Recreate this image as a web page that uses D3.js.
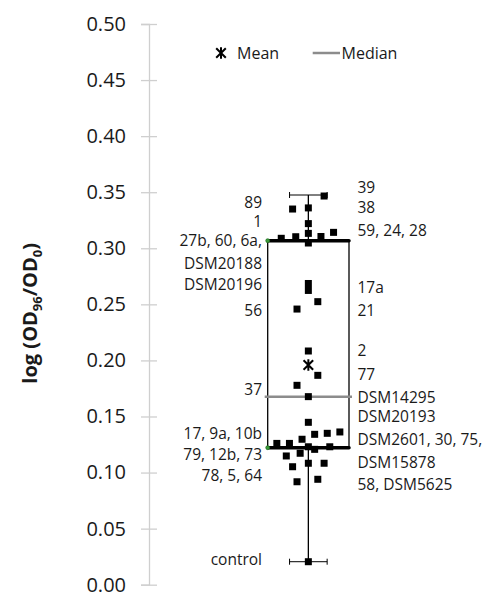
<!DOCTYPE html>
<html><head><meta charset="utf-8">
<script src="https://cdn.jsdelivr.net/npm/d3@7"></script>
<style>body{margin:0;background:#fff}svg{display:block}text{font-family:"Open Sans",sans-serif;fill:#1a1a1a}</style>
</head><body><svg id="c" width="491" height="593"></svg>
<script>
// ---- data ----
const tickValues = [0, 0.05, 0.10, 0.15, 0.20, 0.25, 0.30, 0.35, 0.40, 0.45, 0.50];
const statNames  = ["min", "q1", "median", "q3", "max", "mean"];
const statValues = [0.0205, 0.1222, 0.1677, 0.3068, 0.3475, 0.1959];
// strain values and their swarm column (horizontal offset index)
const pointValues  = [0.3466, 0.335, 0.336, 0.322, 0.3142, 0.3105, 0.3133, 0.3103, 0.3089, 0.3047,
                      0.2686, 0.2624, 0.2524, 0.2458, 0.2084, 0.1867, 0.1778, 0.1677, 0.1448,
                      0.1341, 0.135, 0.1362, 0.126, 0.126, 0.1297, 0.123, 0.1207, 0.123,
                      0.1148, 0.1052, 0.1172, 0.1083, 0.1083, 0.0918, 0.094, 0.0205];
const pointColumns = [2.5, -2.5, 0, 0, 4, 2, 0, -2, -4.3, 0,
                      0, 0, 1.5, -1.8, 0, 1.5, -1.8, 0, 0,
                      1, 3, 5, -5, -3, -1, 0, 1, 3.4,
                      -3.5, -2.5, -1.3, 0, 2.5, -1.8, 1.5, 0];
const leftLabels       = ["89", "1", "27b, 60, 6a,", "DSM20188", "DSM20196", "56", "37",
                          "17, 9a, 10b", "79, 12b, 73", "78, 5, 64", "control"];
const leftLabelValues  = [0.341, 0.3237, 0.3065, 0.2866, 0.2673, 0.2443, 0.1742,
                          0.135, 0.1163, 0.0969, 0.0227];
const rightLabels      = ["39", "38", "59, 24, 28", "17a", "21", "2", "77", "DSM14295",
                          "DSM20193", "DSM2601, 30, 75,", "DSM15878", "58, DSM5625"];
const rightLabelValues = [0.3544, 0.3362, 0.3157, 0.2652, 0.2443, 0.2084, 0.1876, 0.1668,
                          0.1498, 0.1297, 0.1088, 0.0895];
const legendItems = ["Mean", "Median"];

// ---- layout ----
const svg = d3.select("#c");
const stat = Object.fromEntries(statNames.map((n, i) => [n, statValues[i]]));
const y = d3.scaleLinear().domain([0, 0.5]).range([584.7, 24]);
const x = d3.scaleLinear().domain([-6.45, 6.45]).range([267.7, 349]);
const cx = x(0);
const axisX = 149;

// axis
const ag = svg.append("g").attr("transform", `translate(${axisX},0)`)
  .call(d3.axisLeft(y).tickValues(tickValues).tickFormat(d3.format(".2f")).tickSize(8).tickPadding(15));
ag.select(".domain").attr("stroke", "#cfcfcf").attr("stroke-width", 1.3);
ag.selectAll(".tick line").attr("x1", -8).attr("x2", 8).attr("stroke", "#cfcfcf").attr("stroke-width", 1.3);
ag.selectAll(".tick text").attr("font-size", 20).attr("font-family", "Open Sans").attr("fill", "#1a1a1a");

// axis title
const t = svg.append("text").attr("transform", `translate(37,${(y(0) + y(0.5)) / 2 + 9}) rotate(-90)`)
  .attr("text-anchor", "middle").attr("font-size", 20).attr("font-weight", "bold");
t.append("tspan").text("log (OD");
t.append("tspan").text("96").attr("font-size", 13).attr("dy", 5);
t.append("tspan").text("/OD").attr("dy", -5);
t.append("tspan").text("0").attr("font-size", 13).attr("dy", 5);
t.append("tspan").text(")").attr("dy", -5);

// whiskers
const capHalf = 18.8;
[["max", "q3"], ["min", "q1"]].forEach(([a, b]) => {
  svg.append("line").attr("x1", cx).attr("x2", cx).attr("y1", y(stat[a])).attr("y2", y(stat[b]))
    .attr("stroke", "#000").attr("stroke-width", 1.3);
  svg.append("line").attr("x1", cx - capHalf).attr("x2", cx + capHalf).attr("y1", y(stat[a])).attr("y2", y(stat[a]))
    .attr("stroke", "#000").attr("stroke-width", 1);
  [-capHalf, capHalf].forEach(o => svg.append("line").attr("x1", cx + o).attr("x2", cx + o)
    .attr("y1", y(stat[a]) - 3).attr("y2", y(stat[a]) + 3).attr("stroke", "#000").attr("stroke-width", 1));
});

// box sides
[x(-6.45), x(6.45)].forEach(xx => svg.append("line").attr("x1", xx).attr("x2", xx)
  .attr("y1", y(stat.q3)).attr("y2", y(stat.q1)).attr("stroke", "#000").attr("stroke-width", 1.3));
// box top / bottom (thick)
["q3", "q1"].forEach(k => {
  svg.append("line").attr("x1", x(-6.45)).attr("x2", x(6.45)).attr("y1", y(stat[k])).attr("y2", y(stat[k]))
    .attr("stroke", "#000").attr("stroke-width", 3.5).attr("stroke-linecap", "round");
});
// median
svg.append("line").attr("x1", x(-6.45) - 3).attr("x2", x(6.45) + 3).attr("y1", y(stat.median)).attr("y2", y(stat.median))
  .attr("stroke", "#8c8c8c").attr("stroke-width", 2.5);

// points
const sz = 7;
svg.append("g").selectAll("rect").data(pointValues).join("rect")
  .attr("x", (d, i) => x(pointColumns[i]) - sz / 2).attr("y", d => y(d) - sz / 2)
  .attr("width", sz).attr("height", sz).attr("fill", "#000");

// small green markers at the box-edge line starts
["q3", "q1"].forEach(k => svg.append("circle").attr("cx", x(-6.45)).attr("cy", y(stat[k])).attr("r", 2)
  .attr("fill", "#3a9a3a").attr("stroke", "#1e6e1e").attr("stroke-width", 0.6));

// mean marker
function star(g, px, py, s) {
  g.append("path").attr("d", `M${px - s},${py - s}L${px + s},${py + s}M${px - s},${py + s}L${px + s},${py - s}M${px},${py - s * 1.2}L${px},${py + s * 1.2}`)
    .attr("stroke", "#000").attr("stroke-width", 2).attr("fill", "none");
}
star(svg, cx, y(stat.mean), 4.8);

// labels
svg.append("g").selectAll("text").data(leftLabels).join("text")
  .attr("x", 262).attr("y", (d, i) => y(leftLabelValues[i])).attr("dy", "0.35em")
  .attr("text-anchor", "end").attr("font-size", 15.5).text(d => d);
svg.append("g").selectAll("text").data(rightLabels).join("text")
  .attr("x", 357.5).attr("y", (d, i) => y(rightLabelValues[i])).attr("dy", "0.35em")
  .attr("font-size", 15.5).text(d => d);

// legend
const ly = 53;
star(svg, 221, ly, 4.8);
svg.append("text").attr("x", 237).attr("y", ly).attr("dy", "0.35em").attr("font-size", 16).text(legendItems[0]);
svg.append("line").attr("x1", 312.7).attr("x2", 340).attr("y1", ly).attr("y2", ly).attr("stroke", "#8c8c8c").attr("stroke-width", 2.5);
svg.append("text").attr("x", 341.5).attr("y", ly).attr("dy", "0.35em").attr("font-size", 16).text(legendItems[1]);
</script></body></html>
